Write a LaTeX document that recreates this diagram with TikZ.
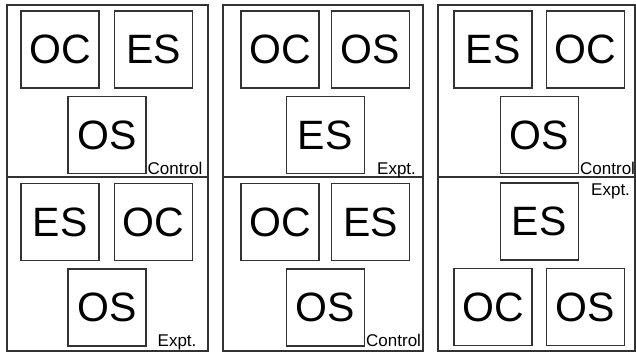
\documentclass[tikz,border=0pt]{standalone}
\usepackage{fontspec}
\setmainfont{Liberation Sans}
\usetikzlibrary{positioning,calc}
\definecolor{linegray}{RGB}{50,50,50}

\begin{document}
\begin{tikzpicture}[
      x=1pt, y=-1pt,
      node distance=14pt,
      panel/.style={draw=linegray, line width=1.7pt},
      cell/.style={draw=linegray, line width=1.5pt, inner sep=0pt,
                   minimum width=78pt, minimum height=77pt,
                   font=\fontsize{41}{41}\selectfont},
      tag/.style={inner sep=1pt, font=\fontsize{17}{17}\selectfont}
    ]
    \useasboundingbox (0,0) rectangle (636,354);
    % three panels, each split in two halves
    \draw[panel] (7,5) rectangle (208,351);
    \draw[panel] (223,5) rectangle (423,351);
    \draw[panel] (438,5) rectangle (635,351);
    \draw[panel] (7,177) -- (208,177);
    \draw[panel] (223,177) -- (423,177);
    \draw[panel] (438,177) -- (635,177);

    % panel 1, top
    \node[cell] (a1oc) at (60,49.5) {OC};
    \node[cell, right=of a1oc] (a1es) {ES};
    \node[cell, below=7pt] (a1os) at ($(a1oc.south)!0.5!(a1es.south)$) {OS};
    \node[tag, anchor=base west] (a1tag) at (a1os.south east) {Control};
    % panel 1, bottom
    \node[cell] (b1es) at (60,222) {ES};
    \node[cell, right=of b1es] (b1oc) {OC};
    \node[cell, below=7pt] (b1os) at ($(b1es.south)!0.5!(b1oc.south)$) {OS};
    \node[tag, anchor=base west, xshift=10pt] (b1tag) at (b1os.south east) {Expt.};

    % panel 2, top
    \node[cell] (a2oc) at (280,49.5) {OC};
    \node[cell, right=11pt of a2oc] (a2os) {OS};
    \node[cell, below=7pt] (a2es) at ($(a2oc.south)!0.5!(a2os.south)$) {ES};
    \node[tag, anchor=base west, xshift=11pt] (a2tag) at (a2es.south east) {Expt.};
    % panel 2, bottom
    \node[cell] (b2oc) at (280,222) {OC};
    \node[cell, right=11pt of b2oc] (b2es) {ES};
    \node[cell, below=7pt] (b2os) at ($(b2oc.south)!0.5!(b2es.south)$) {OS};
    \node[tag, anchor=base west] (b2tag) at (b2os.south east) {Control};

    % panel 3, top
    \node[cell] (a3es) at (493,49.5) {ES};
    \node[cell, right=13pt of a3es] (a3oc) {OC};
    \node[cell, below=7pt] (a3os) at ($(a3es.south)!0.5!(a3oc.south)$) {OS};
    \node[tag, anchor=base west] (a3tag) at (a3os.south east) {Control};
    % panel 3, bottom
    \node[cell] (b3oc) at (493,307) {OC};
    \node[cell, right=13pt of b3oc] (b3os) {OS};
    \node[cell, above=7pt] (b3es) at ($(b3oc.north)!0.5!(b3os.north)$) {ES};
    \node[tag, anchor=north west, xshift=11pt] (b3tag) at (b3es.north east) {Expt.};
  \end{tikzpicture}
\end{document}
